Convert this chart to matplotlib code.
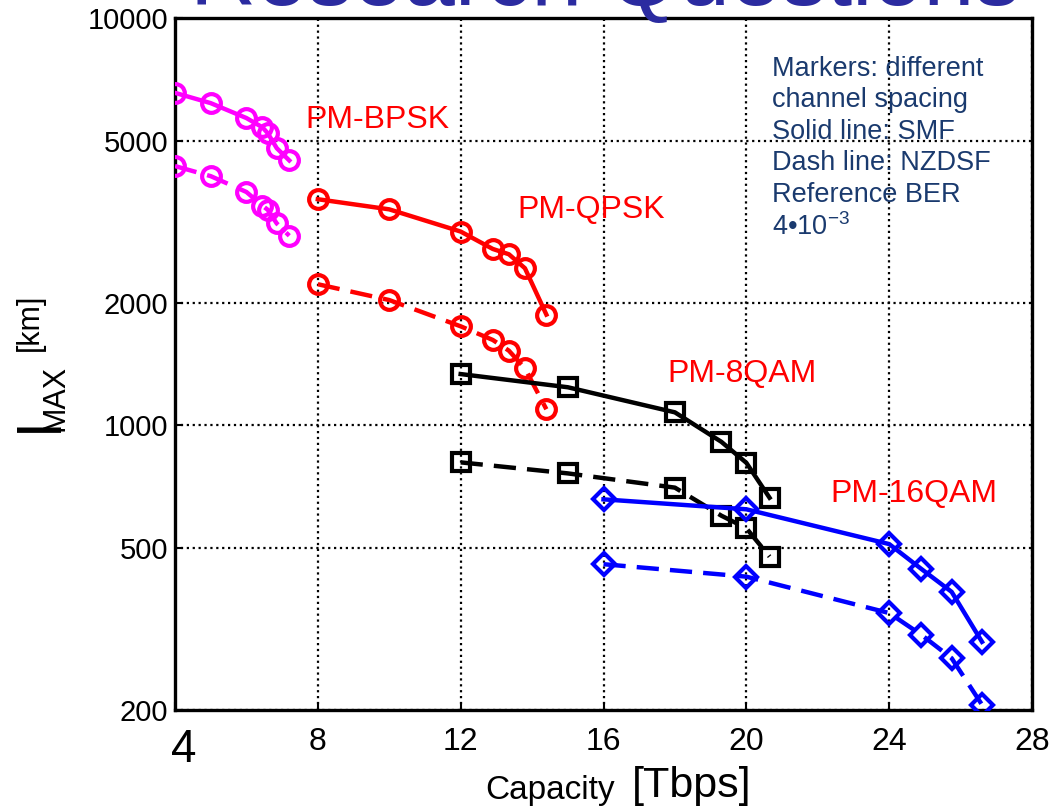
import numpy as np
import matplotlib
matplotlib.use("Agg")
import matplotlib.pyplot as plt
from matplotlib.transforms import ScaledTranslation

"""""""""""""""""""""""""""""""""""""""""""""""""""""""""
: Data
"""""""""""""""""""""""""""""""""""""""""""""""""""""""""
bpsk_cap = [4, 5, 6, 6.45, 6.6, 6.85, 7.2]
bpsk_smf = [6550, 6180, 5680, 5390, 5210, 4790, 4470]
bpsk_nzdsf = [4330, 4090, 3740, 3460, 3380, 3130, 2920]

qpsk_cap = [8, 10, 12, 12.9, 13.35, 13.8, 14.4]
qpsk_smf = [3590, 3390, 2990, 2710, 2630, 2430, 1870]
qpsk_nzdsf = [2220, 2030, 1750, 1620, 1525, 1380, 1095]

qam8_cap = [12, 15, 18, 19.3, 20, 20.65]
qam8_smf = [1336, 1240, 1076, 911, 809, 664]
qam8_nzdsf = [811, 762, 703, 600, 559, 476]

qam16_cap = [16, 20, 24, 24.9, 25.75, 26.6]
qam16_smf = [658, 622, 511, 444, 390, 294]
qam16_nzdsf = [456, 425, 346, 306, 268, 206]

x_ticks = [4, 8, 12, 16, 20, 24, 28]
y_ticks = [200, 500, 1000, 2000, 5000, 10000]

series = [
    ("PM-BPSK", bpsk_cap, bpsk_smf, bpsk_nzdsf, "#ff00ff", "o", 13.5, (7.65, 5620)),
    ("PM-QPSK", qpsk_cap, qpsk_smf, qpsk_nzdsf, "#ff0000", "o", 13.5, (13.58, 3376)),
    ("PM-8QAM", qam8_cap, qam8_smf, qam8_nzdsf, "#000000", "s", 12.5, (17.78, 1336)),
    ("PM-16QAM", qam16_cap, qam16_smf, qam16_nzdsf, "#0000ff", "D", 11.5, (22.35, 678)),
]

info = "Markers: different\nchannel spacing\nSolid line: SMF\nDash line: NZDSF\nReference BER\n4•10$^{-3}$"

"""""""""""""""""""""""""""""""""""""""""""""""""""""""""
: Plotting
"""""""""""""""""""""""""""""""""""""""""""""""""""""""""
plt.rcParams['font.family'] = ['Liberation Sans', 'DejaVu Sans']
plt.rcParams['mathtext.fontset'] = 'custom'
plt.rcParams['mathtext.rm'] = 'Liberation Sans'
plt.rcParams['mathtext.it'] = 'Liberation Sans'

fig = plt.figure(figsize=(10.54, 8.09), dpi=100)
ax = fig.add_axes([175 / 1054, 1 - 710 / 809, (1032 - 175) / 1054, (710 - 18) / 809])

for name, cap, smf, nzdsf, col, mk, ms, lbl in series:
    ax.plot(cap, smf, color=col, lw=3.2, marker=mk, ms=ms, mew=3,
            mfc='none', mec=col, zorder=3)
    ax.plot(cap, nzdsf, color=col, lw=3.2, ls=(0, (5, 2.5)), marker=mk, ms=ms,
            mew=3, mfc='none', mec=col, zorder=3)
    ax.text(lbl[0], lbl[1], name, color='#ff0000', fontsize=23,
            ha='left', va='center')

ax.set_yscale('log')
ax.set_xlim(4, 28)
ax.set_ylim(200, 10000)
ax.set_xticks(x_ticks)
ax.set_xticklabels([''] + [str(t) for t in x_ticks[1:]], fontsize=23)
ax.set_yticks(y_ticks)
ax.set_yticklabels([str(t) for t in y_ticks], fontsize=21)
ax.minorticks_off()
ax.tick_params(axis='both', direction='in', length=6, width=1.5)
ax.tick_params(axis='x', pad=12)
ax.tick_params(axis='y', pad=5)
ax.grid(True, which='major', ls=':', color='black', lw=1.6)
ax.set_axisbelow(True)
for sp in ax.spines.values():
    sp.set_linewidth(2.4)

# the first x tick label is set larger and nudged right
ax.text(4, 0, "4", fontsize=33, ha='center', va='top',
        transform=ax.get_xaxis_transform() + ScaledTranslation(0.09, -0.18, fig.dpi_scale_trans))

ax.text(0.697, 0.945, info, transform=ax.transAxes, color='#1a3a6e',
        fontsize=19.5, ha='left', va='top', linespacing=1.27)

# axis labels
fig.text(550 / 1054, 1 - 790 / 809, "Capacity", fontsize=24, ha='center', va='center')
fig.text(692 / 1054, 1 - 786 / 809, "[Tbps]", fontsize=31, ha='center', va='center')

fig.text(42 / 1054, 1 - 425 / 809, "l", fontsize=44, rotation=90, ha='center', va='center')
fig.text(55 / 1054, 1 - 398 / 809, "MAX", fontsize=22, rotation=90, ha='center', va='center')
fig.text(30 / 1054, 1 - 322 / 809, "[km]", fontsize=22, rotation=90, ha='center', va='center')

# slide title, mostly above the frame
fig.text(605 / 1054, 1 - 5 / 809, "Research Questions", fontsize=66,
         color='#2b2ba0', ha='center', va='baseline')

plt.savefig("out.png", dpi=100)
plt.close()
